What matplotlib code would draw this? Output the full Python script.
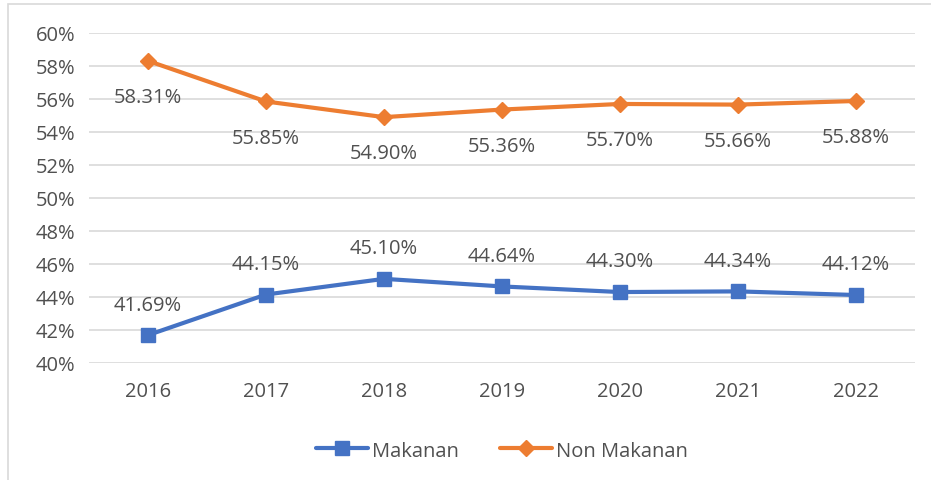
import matplotlib.pyplot as plt
from matplotlib.patches import Rectangle
from matplotlib.ticker import FuncFormatter

years = ['2016', '2017', '2018', '2019', '2020', '2021', '2022']
makanan = [41.69, 44.15, 45.10, 44.64, 44.30, 44.34, 44.12]
non_makanan = [58.31, 55.85, 54.90, 55.36, 55.70, 55.66, 55.88]

plt.rcParams['font.family'] = ['Open Sans', 'DejaVu Sans']
txt = '#505050'
fs = 14.5

fig = plt.figure(figsize=(9.31, 4.81), dpi=100)
fig.patches.append(Rectangle((8 / 931, -0.01), 1.0, 1 - 5 / 481 + 0.01,
                             transform=fig.transFigure, fill=False,
                             edgecolor='#D9D9D9', linewidth=1.2))
ax = fig.add_axes([89 / 931, 1 - 364 / 481, 826 / 931, 330 / 481])

x = range(len(years))
ax.plot(x, makanan, color='#4472C4', linewidth=3, marker='s', markersize=10,
        label='Makanan', solid_capstyle='round')
ax.plot(x, non_makanan, color='#ED7D31', linewidth=3, marker='D', markersize=8,
        label='Non Makanan', solid_capstyle='round')

# data labels
for i, v in enumerate(makanan):
    ax.annotate(f'{v:.2f}%', (i, v), xytext=(0, 22), textcoords='offset points',
                ha='center', va='center', fontsize=fs, color=txt)
for i, v in enumerate(non_makanan):
    ax.annotate(f'{v:.2f}%', (i, v), xytext=(0, -26), textcoords='offset points',
                ha='center', va='center', fontsize=fs, color=txt)

ax.set_xlim(-0.5, len(years) - 0.5)
ax.set_ylim(40, 60)
ax.set_yticks(range(40, 61, 2))
ax.yaxis.set_major_formatter(FuncFormatter(lambda v, p: f'{v:.0f}%'))
ax.set_xticks(list(x))
ax.set_xticklabels(years)
ax.tick_params(length=0, labelsize=fs, labelcolor=txt)
ax.tick_params(axis='x', pad=13)
ax.tick_params(axis='y', pad=10)
ax.grid(axis='y', color='#D9D9D9', linewidth=1.2)
ax.set_axisbelow(True)
for s in ax.spines.values():
    s.set_visible(False)

ax.legend(loc='upper center', bbox_to_anchor=(0.5, -0.18), ncol=2, frameon=False,
          fontsize=fs, labelcolor=txt, handlelength=2.6, handletextpad=0.2,
          columnspacing=2.0)

plt.savefig('out.png', dpi=100)
